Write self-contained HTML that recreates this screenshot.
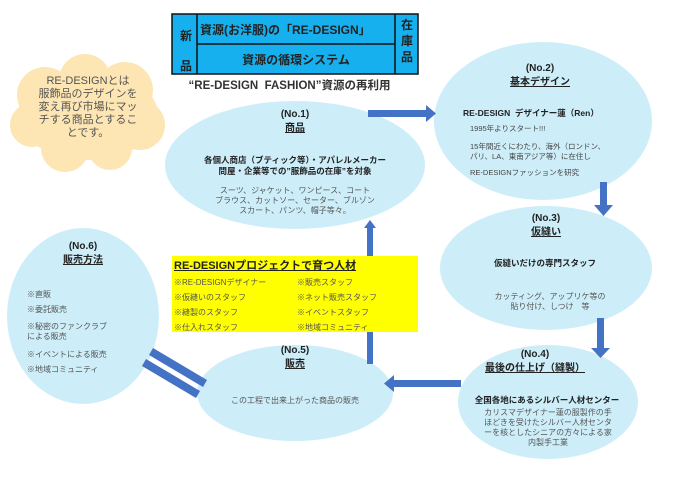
<!DOCTYPE html>
<html><head><meta charset="utf-8"><style>
body{margin:0;width:678px;height:477px;background:#fff;position:relative;overflow:hidden;font-family:"Liberation Sans","Noto Sans CJK JP",sans-serif;color:#333}
.t{position:absolute;white-space:nowrap;text-align:center}
.b{font-weight:bold;color:#222}
.u{text-decoration:underline}
</style></head><body>
<svg width="678" height="477" style="position:absolute;left:0;top:0">
<defs><filter id="s"><feGaussianBlur stdDeviation="0.5"/></filter></defs>
<!-- cloud -->
<g fill="#fde6b3">
<ellipse cx="88" cy="115" rx="70" ry="45"/>
<circle cx="45" cy="95" r="28"/><circle cx="85" cy="80" r="26"/><circle cx="125" cy="90" r="28"/>
<circle cx="140" cy="125" r="25"/><circle cx="110" cy="148" r="22"/><circle cx="65" cy="148" r="24"/><circle cx="32" cy="125" r="22"/>
</g>
<!-- ellipses -->
<g fill="#cdeef9">
<ellipse cx="295" cy="165" rx="130" ry="64"/>
<ellipse cx="543" cy="121" rx="109" ry="79"/>
<ellipse cx="546" cy="268" rx="106" ry="62"/>
<ellipse cx="548" cy="402" rx="90" ry="57"/>
<ellipse cx="295" cy="393" rx="98" ry="48"/>
<ellipse cx="83" cy="316" rx="76" ry="88"/>
</g>
<!-- arrows -->
<g fill="#4472c4">
<rect x="368" y="110" width="58" height="7"/><polygon points="426,105 436,113.5 426,122"/>
<rect x="600" y="182" width="7" height="24"/><polygon points="594,205 613,205 603.5,216"/>
<rect x="597" y="318" width="7" height="32"/><polygon points="591,348 610,348 600.5,358"/>
<rect x="390" y="380" width="71" height="7"/><polygon points="394,375 384,383.5 394,392"/>
<rect x="367" y="226" width="6" height="30"/><polygon points="364,228 376,228 370,220"/>
<rect x="367" y="332" width="6" height="32"/>
<polygon points="153,348 207,380 203,387 149,355"/>
<polygon points="146,359 200,391 196,398 142,366"/>
</g>
<!-- header -->
<g stroke="#111" stroke-width="1.5" fill="#16b0ef">
<rect x="172" y="14" width="246" height="60"/>
<line x1="197" y1="14" x2="197" y2="74"/><line x1="395" y1="14" x2="395" y2="74"/>
<line x1="197" y1="44" x2="395" y2="44"/>
</g>
<rect x="172" y="256" width="246" height="76" fill="#ffff00"/>
</svg>
<div class="t b" style="left:176px;top:21px;font-size:12px;line-height:30px;width:20px;white-space:normal">新<br>品</div>
<div class="t b" style="left:398px;top:17px;font-size:12px;line-height:16px;width:18px;white-space:normal">在<br>庫<br>品</div>
<div class="t b" style="left:200px;top:21px;font-size:12px;width:195px;text-align:left;padding-left:0">資源(お洋服)の「RE-DESIGN」</div>
<div class="t b" style="left:197px;top:51px;font-size:12px;width:198px">資源の循環システム</div>
<div class="t b" style="left:172px;top:77px;font-size:11.5px;width:235px;color:#333">“RE-DESIGN&nbsp; FASHION”資源の再利用</div>
<div class="t" style="left:20px;top:75px;font-size:11px;line-height:13px;width:136px;color:#555">RE-DESIGNとは<br>服飾品のデザインを<br>変え再び市場にマッ<br>チする商品とするこ<br>とです。</div>

<div class="t b" style="left:235px;top:108px;width:120px;font-size:10px;line-height:14px">(No.1)<br><span class="u">商品</span></div>
<div class="t b" style="left:170px;top:155px;width:250px;font-size:8.5px;line-height:11px">各個人商店（ブティック等）・アパレルメーカー<br>問屋・企業等での”服飾品の在庫”を対象</div>
<div class="t" style="left:170px;top:186px;width:250px;font-size:8px;line-height:10px;color:#555">スーツ、ジャケット、ワンピース、コート<br>ブラウス、カットソー、セーター、ブルゾン<br>スカート、パンツ、帽子等々。</div>

<div class="t b" style="left:490px;top:62px;width:100px;font-size:10px;line-height:14px">(No.2)<br><span class="u">基本デザイン</span></div>
<div class="t b" style="left:463px;top:107px;font-size:8.5px">RE-DESIGN&nbsp; デザイナー蓮（Ren）</div>
<div class="t" style="left:470px;top:124px;font-size:7.5px;text-align:left;line-height:10px;color:#444">1995年よりスタート!!!</div>
<div class="t" style="left:470px;top:142px;font-size:7.5px;text-align:left;line-height:10px;color:#444">15年間近くにわたり、海外（ロンドン、<br>パリ、LA、東南アジア等）に在住し</div>
<div class="t" style="left:470px;top:168px;font-size:7.5px;text-align:left;line-height:10px;color:#444">RE-DESIGNファッションを研究</div>

<div class="t b" style="left:496px;top:212px;width:100px;font-size:10px;line-height:14px">(No.3)<br><span class="u">仮縫い</span></div>
<div class="t b" style="left:460px;top:257px;width:170px;font-size:8.5px">仮縫いだけの専門スタッフ</div>
<div class="t" style="left:460px;top:292px;width:180px;font-size:8px;line-height:10px;color:#555">カッティング、アップリケ等の<br>貼り付け、しつけ　等</div>

<div class="t b" style="left:470px;top:348px;width:130px;font-size:10px;line-height:14px">(No.4)<br><span class="u">最後の仕上げ（縫製）</span></div>
<div class="t b" style="left:452px;top:394px;width:190px;font-size:8.5px">全国各地にあるシルバー人材センター</div>
<div class="t" style="left:468px;top:408px;width:160px;font-size:8px;line-height:10px;color:#555">カリスマデザイナー蓮の服製作の手<br>ほどきを受けたシルバー人材センタ<br>ーを核としたシニアの方々による家<br>内製手工業</div>

<div class="t b" style="left:245px;top:344px;width:100px;font-size:10px;line-height:14px">(No.5)<br><span class="u">販売</span></div>
<div class="t" style="left:210px;top:395px;width:170px;font-size:8px;color:#555">この工程で出来上がった商品の販売</div>

<div class="t b" style="left:33px;top:240px;width:100px;font-size:10px;line-height:14px">(No.6)<br><span class="u">販売方法</span></div>
<div class="t" style="left:27px;top:290px;font-size:8px;line-height:10px;text-align:left;color:#555">※直販</div>
<div class="t" style="left:27px;top:305px;font-size:8px;line-height:10px;text-align:left;color:#555">※委託販売</div>
<div class="t" style="left:27px;top:322px;font-size:8px;line-height:10px;text-align:left;color:#555">※秘密のファンクラブ<br>による販売</div>
<div class="t" style="left:27px;top:350px;font-size:8px;line-height:10px;text-align:left;color:#555">※イベントによる販売</div>
<div class="t" style="left:27px;top:365px;font-size:8px;line-height:10px;text-align:left;color:#555">※地域コミュニティ</div>

<div class="t b u" style="left:174px;top:257px;font-size:11px;text-align:left">RE-DESIGNプロジェクトで育つ人材</div>
<div class="t" style="left:174px;top:275px;font-size:8px;line-height:15px;text-align:left;color:#555">※RE-DESIGNデザイナー<br>※仮縫いのスタッフ<br>※縫製のスタッフ<br>※仕入れスタッフ</div>
<div class="t" style="left:297px;top:275px;font-size:8px;line-height:15px;text-align:left;color:#555">※販売スタッフ<br>※ネット販売スタッフ<br>※イベントスタッフ<br>※地域コミュニティ</div>
</body></html>
